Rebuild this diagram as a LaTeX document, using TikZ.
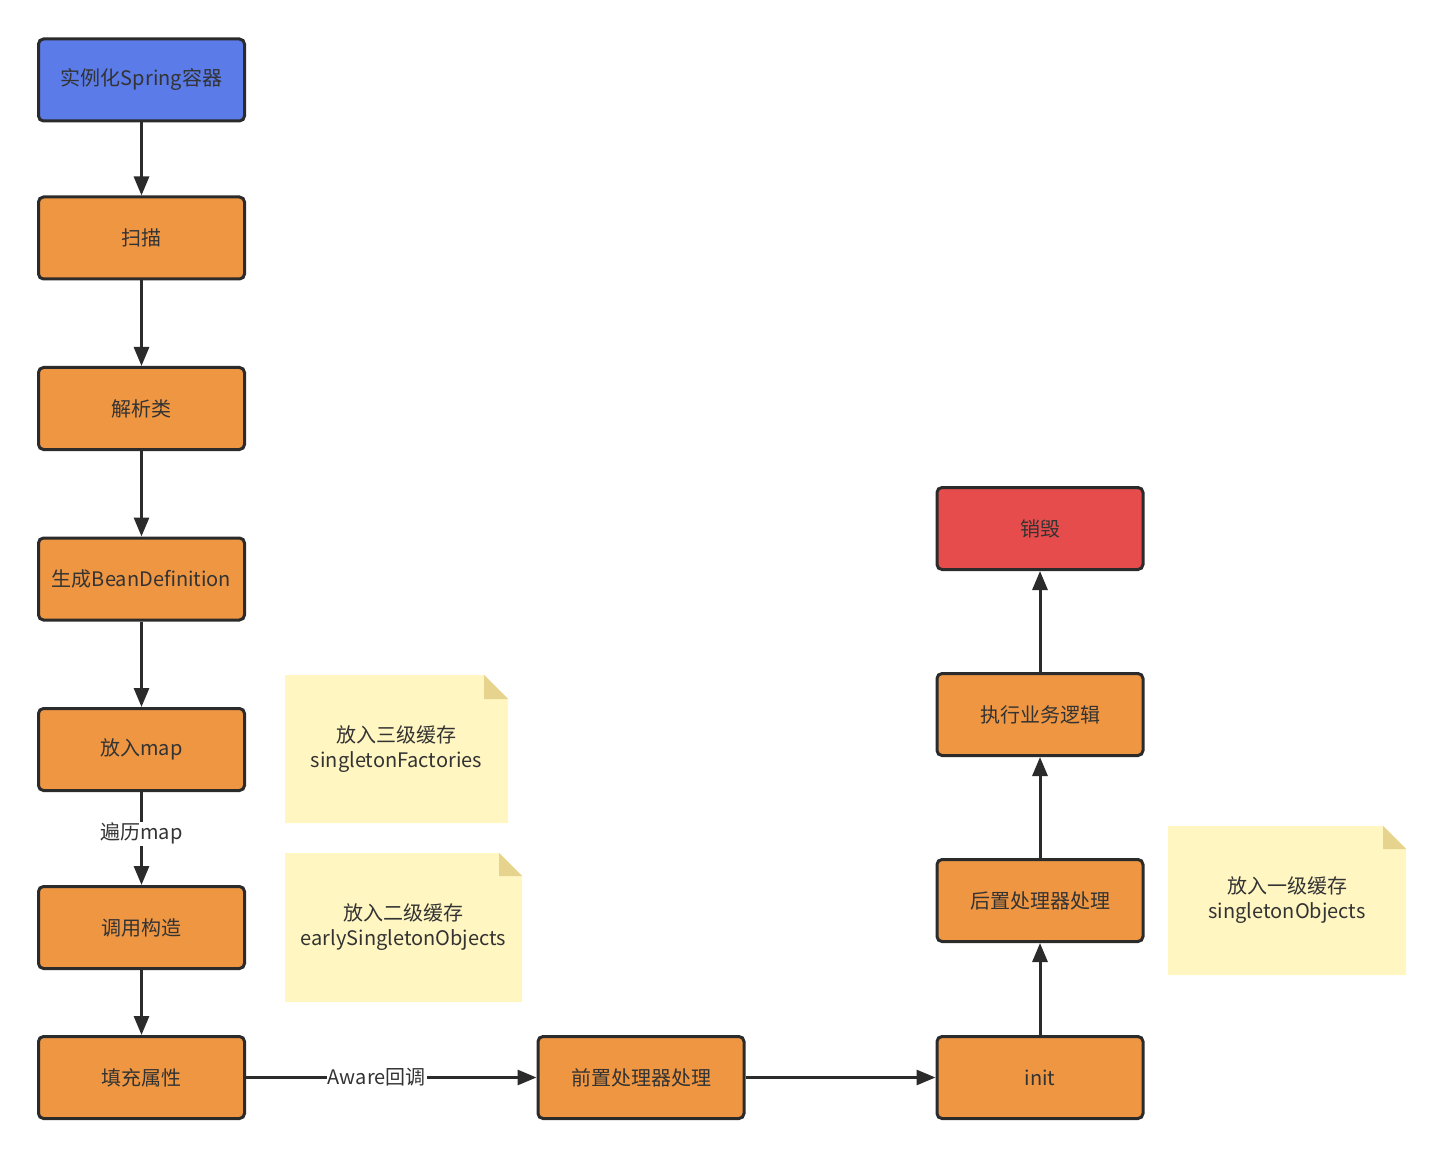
\documentclass[tikz,border=0pt]{standalone}
\usepackage{fontspec}
\setmainfont{Noto Sans CJK SC}
\usetikzlibrary{arrows.meta,positioning}

\definecolor{boxorange}{HTML}{EE9642}
\definecolor{boxblue}{HTML}{5A7BE8}
\definecolor{boxred}{HTML}{E64C4C}
\definecolor{lineC}{HTML}{2B2B2B}
\definecolor{textC}{HTML}{333333}
\definecolor{noteC}{HTML}{FFF6C2}
\definecolor{foldC}{HTML}{E6D38E}

\begin{document}
\begin{tikzpicture}[x=1pt,y=-1pt,
    stepbox/.style={draw=lineC,line width=3pt,rounded corners=5pt,fill=boxorange,
      minimum width=206pt,minimum height=82pt,text=textC,font=\fontsize{20}{24}\selectfont},
    flow/.style={-{Triangle[length=19pt,width=15pt]},line width=3pt,draw=lineC},
    lbl/.style={fill=white,text=textC,inner sep=1pt,font=\fontsize{20}{24}\selectfont},
    notetext/.style={align=center,text=textC,font=\fontsize{20}{25}\selectfont}]
    \useasboundingbox (0,0) rectangle (1444,1158);

    % Colonne de gauche
    \node[stepbox,fill=boxblue] (start) at (141.5,80) {实例化Spring容器};
    \node[stepbox] (scan) at (141.5,238) {扫描};
    \node[stepbox] (parse) at (141.5,408.5) {解析类};
    \node[stepbox] (beandef) at (141.5,579) {生成BeanDefinition};
    \node[stepbox] (putmap) at (141.5,749.5) {放入map};
    \node[stepbox] (ctor) at (141.5,927.5) {调用构造};
    \node[stepbox] (props) at (141.5,1077.5) {填充属性};

    % Ligne du bas et colonne de droite
    \node[stepbox] (before) at (641,1077.5) {前置处理器处理};
    \node[stepbox] (initm) at (1040,1077.5) {init};
    \node[stepbox] (after) at (1040,900.5) {后置处理器处理};
    \node[stepbox] (biz) at (1040,714.5) {执行业务逻辑};
    \node[stepbox,fill=boxred] (destroy) at (1040,528.5) {销毁};

    % Flèches
    \draw[flow] (start) -- (scan);
    \draw[flow] (scan) -- (parse);
    \draw[flow] (parse) -- (beandef);
    \draw[flow] (beandef) -- (putmap);
    \draw[flow] (putmap) -- node[lbl,pos=0.45] {遍历map} (ctor);
    \draw[flow] (ctor) -- (props);
    \draw[flow] (props) -- node[lbl,pos=0.45] {Aware回调} (before);
    \draw[flow] (before) -- (initm);
    \draw[flow] (initm) -- (after);
    \draw[flow] (after) -- (biz);
    \draw[flow] (biz) -- (destroy);

    % Notes
    \fill[noteC] (285,675) -- (484,675) -- (508,699) -- (508,823) -- (285,823) -- cycle;
    \fill[foldC] (484,675) -- (484,699) -- (508,699) -- cycle;
    \node[notetext] (note3) at (396.5,749) {放入三级缓存\\singletonFactories};

    \fill[noteC] (285,853) -- (499,853) -- (522,876) -- (522,1002) -- (285,1002) -- cycle;
    \fill[foldC] (499,853) -- (499,876) -- (522,876) -- cycle;
    \node[notetext] (note2) at (403.5,927.5) {放入二级缓存\\earlySingletonObjects};

    \fill[noteC] (1168,826) -- (1383,826) -- (1406,849) -- (1406,975) -- (1168,975) -- cycle;
    \fill[foldC] (1383,826) -- (1383,849) -- (1406,849) -- cycle;
    \node[notetext] (note1) at (1287,900.5) {放入一级缓存\\singletonObjects};
\end{tikzpicture}
\end{document}
